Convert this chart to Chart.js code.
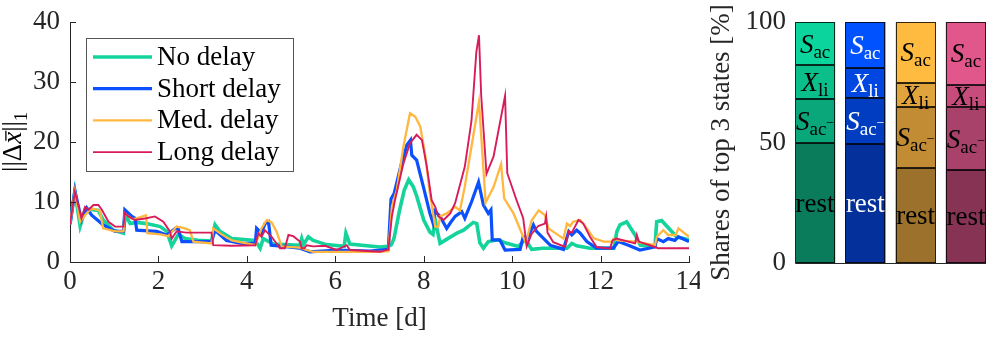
<!DOCTYPE html>
<html>
<head>
<meta charset="utf-8">
<script src="https://cdn.jsdelivr.net/npm/chart.js@4/dist/chart.umd.min.js"></script>
<style>
  body { margin: 0; background: #fff; }
  canvas { position: absolute; top: 0; }
</style>
</head>
<body>
<canvas id="lines" width="700" height="340" style="left:0"></canvas>
<canvas id="shares" width="296" height="340" style="left:700px"></canvas>
<script>
// time series, one time array and one value array per delay case
const noDelayT = [0, 0.11, 0.23, 0.34, 0.45, 0.64, 0.75, 0.98, 1.21, 1.25, 1.36, 1.51, 1.73, 2.04, 2.19, 2.3, 2.45, 2.6, 2.9, 3.2, 3.28, 3.39, 3.66, 4.19, 4.3, 4.37, 4.6, 5.2, 5.24, 5.28, 5.39, 5.5, 5.8, 6.2, 6.24, 6.33, 7.0, 7.2, 7.27, 7.33, 7.45, 7.56, 7.66, 7.76, 7.84, 8.0, 8.14, 8.21, 8.26, 8.3, 8.37, 8.48, 8.75, 8.9, 9.12, 9.2, 9.27, 9.35, 9.46, 9.69, 9.84, 10.14, 10.3, 10.44, 10.7, 11.24, 11.35, 11.46, 11.76, 12.3, 12.37, 12.44, 12.59, 12.78, 12.9, 13.23, 13.27, 13.38, 13.72, 14];
const noDelayV = [6.3, 11.7, 6.0, 8.7, 8.8, 8.6, 7.0, 5.3, 4.8, 7.9, 6.4, 6.6, 6.4, 5.9, 5.1, 2.7, 4.6, 3.9, 3.6, 3.5, 6.2, 5.1, 3.9, 3.6, 2.3, 3.9, 3.0, 2.8, 3.9, 2.9, 4.2, 3.6, 2.9, 2.6, 4.8, 3.0, 2.5, 2.6, 2.9, 4.0, 8.5, 12.0, 13.7, 12.6, 11.0, 7.0, 5.0, 4.6, 7.0, 5.5, 3.1, 3.6, 4.8, 5.3, 6.6, 6.4, 3.2, 2.3, 3.4, 3.7, 3.2, 2.6, 3.8, 2.1, 2.3, 2.3, 3.1, 2.7, 2.3, 2.3, 5.1, 6.2, 6.7, 4.5, 2.8, 2.6, 6.7, 6.9, 4.2, 3.7];

const shortDelayT = [0, 0.11, 0.26, 0.38, 0.49, 0.75, 1.02, 1.21, 1.24, 1.4, 1.47, 1.51, 1.96, 2.19, 2.38, 2.45, 2.53, 3.2, 3.28, 3.54, 3.88, 4.19, 4.22, 4.33, 4.41, 4.49, 4.55, 4.83, 5.2, 5.43, 6.03, 6.78, 7.2, 7.26, 7.33, 7.5, 7.62, 7.7, 7.73, 7.84, 7.99, 8.14, 8.21, 8.25, 8.37, 8.52, 8.6, 8.71, 8.86, 8.93, 9.08, 9.24, 9.35, 9.46, 9.52, 9.55, 9.72, 9.84, 10.18, 10.25, 10.35, 10.48, 10.55, 10.86, 11.16, 11.28, 11.35, 11.46, 11.54, 11.69, 11.91, 12.29, 12.4, 12.63, 12.89, 13.23, 13.27, 13.42, 13.53, 13.68, 13.76, 14];
const shortDelayV = [6.3, 11.9, 7.0, 9.0, 7.8, 6.2, 5.1, 5.1, 8.7, 7.6, 7.3, 5.3, 5.1, 4.5, 5.6, 5.5, 3.4, 3.4, 5.3, 3.6, 3.1, 3.1, 5.6, 4.8, 6.4, 6.7, 2.8, 2.6, 2.3, 1.7, 2.0, 1.8, 2.1, 10.5, 11.4, 16.5, 19.5, 20.3, 17.8, 17.0, 12.6, 8.1, 6.5, 8.5, 7.6, 5.6, 6.5, 7.6, 8.4, 7.3, 10.0, 13.3, 9.5, 8.1, 8.7, 3.7, 3.7, 2.0, 2.1, 4.2, 4.0, 6.2, 5.1, 2.8, 2.1, 5.1, 4.5, 5.3, 4.8, 3.4, 2.3, 2.3, 3.4, 2.8, 2.0, 2.5, 3.9, 3.4, 3.9, 3.6, 4.2, 3.4];

const medDelayT = [0, 0.11, 0.23, 0.34, 0.45, 0.53, 0.68, 0.75, 1.02, 1.21, 1.24, 1.4, 1.47, 1.72, 1.75, 2.04, 2.22, 2.41, 2.56, 2.71, 2.79, 3.2, 3.24, 3.43, 3.66, 4.19, 4.33, 4.45, 4.56, 4.67, 4.75, 4.79, 5.2, 5.35, 5.5, 6.26, 7.01, 7.2, 7.28, 7.39, 7.54, 7.69, 7.81, 7.92, 8.03, 8.14, 8.26, 8.33, 8.37, 8.52, 8.71, 8.82, 8.93, 9.08, 9.25, 9.4, 9.58, 9.75, 9.82, 10.03, 10.25, 10.31, 10.44, 10.6, 10.74, 10.82, 11.16, 11.24, 11.31, 11.38, 11.54, 11.69, 11.84, 12.07, 12.26, 12.29, 12.4, 12.78, 13.23, 13.27, 13.42, 13.53, 13.7, 13.76, 14];
const medDelayV = [6.3, 11.8, 6.7, 7.8, 8.7, 8.9, 8.5, 5.6, 5.1, 5.1, 8.1, 7.2, 7.2, 7.8, 4.8, 4.6, 4.3, 5.9, 5.7, 5.3, 3.4, 3.1, 5.6, 4.6, 3.6, 2.8, 5.6, 7.0, 6.6, 5.1, 3.4, 2.6, 2.4, 2.0, 1.7, 1.7, 1.7, 1.8, 9.2, 12.0, 19.2, 24.8, 24.2, 22.6, 18.1, 11.4, 5.9, 5.9, 7.6, 8.1, 9.2, 8.6, 12.6, 19.2, 26.7, 9.9, 12.5, 16.3, 10.6, 8.1, 4.2, 3.2, 6.9, 8.6, 7.8, 5.6, 3.9, 6.4, 6.0, 6.7, 7.0, 5.6, 4.0, 3.4, 3.4, 3.9, 3.6, 3.4, 2.8, 4.2, 5.3, 4.5, 4.5, 5.6, 4.2];

const longDelayT = [0, 0.11, 0.26, 0.34, 0.42, 0.53, 0.64, 0.72, 0.87, 1.02, 1.21, 1.24, 1.32, 1.47, 1.73, 1.92, 2.11, 2.26, 2.3, 2.41, 2.64, 3.2, 3.24, 3.66, 4.19, 4.26, 4.33, 4.41, 4.56, 4.75, 4.86, 4.94, 5.05, 5.2, 5.24, 5.3, 5.35, 5.5, 5.77, 6.03, 6.26, 6.33, 7.01, 7.2, 7.28, 7.35, 7.54, 7.69, 7.84, 7.96, 8.07, 8.18, 8.26, 8.33, 8.45, 8.6, 8.71, 8.93, 9.08, 9.19, 9.25, 9.3, 9.42, 9.58, 9.84, 9.89, 10.1, 10.25, 10.33, 10.44, 10.59, 10.74, 10.77, 10.8, 10.93, 11.2, 11.28, 11.35, 11.5, 11.61, 11.76, 11.91, 12.21, 12.27, 12.36, 12.78, 12.82, 12.86, 13.23, 13.3, 14];
const longDelayV = [6.3, 11.7, 7.3, 9.2, 8.7, 9.5, 9.5, 8.7, 6.7, 5.9, 5.9, 8.2, 7.6, 7.0, 7.3, 7.6, 6.7, 5.1, 3.9, 5.1, 4.9, 4.9, 2.8, 2.7, 2.8, 4.8, 4.2, 5.3, 4.2, 2.3, 2.3, 4.5, 4.3, 3.4, 2.3, 2.3, 2.8, 2.6, 2.7, 2.0, 2.8, 2.0, 1.7, 2.1, 7.6, 10.3, 16.4, 19.8, 21.2, 20.3, 15.9, 10.3, 9.2, 7.6, 7.0, 8.1, 9.8, 15.9, 23.5, 35.0, 37.8, 27.8, 14.7, 17.6, 27.7, 14.8, 10.3, 7.3, 2.6, 4.7, 6.0, 6.4, 7.6, 4.9, 3.3, 2.5, 5.1, 4.9, 7.0, 6.4, 4.2, 2.5, 2.2, 3.6, 3.9, 3.1, 4.5, 3.4, 2.5, 2.3, 2.3];

const xTicks = [0, 2, 4, 6, 8, 10, 12, 14];
const yTicks = [0, 10, 20, 30, 40];

// shares of the top 3 states, stacked bottom -> top
const caseNames = ['No delay', 'Short delay', 'Med. delay', 'Long delay'];
const casePos = [1, 2, 3, 4];
const restShare = [50, 49.4, 39.5, 38.6];
const sacMinusShare = [18, 18.9, 25.4, 26];
const xliShare = [14, 12.7, 9.9, 9.4];
const sacShare = [18, 19, 25.2, 26];
const shareTicks = [0, 50, 100];

const FONT = '"Liberation Serif", "DejaVu Serif", serif';
const FS = 27;
const INK = '#262626';
Chart.defaults.font.family = FONT;
Chart.defaults.color = INK;

function pts(ts, vs) {
  return ts.map((t, i) => ({ x: t, y: vs[i] }));
}

// draw a run of text pieces [text, size, italic, dy, bar] centred on cx, cy
function drawParts(ctx, parts, cx, cy, color) {
  let w = 0;
  const widths = parts.map(p => {
    ctx.font = (p[2] ? 'italic ' : '') + p[1] + 'px ' + FONT;
    const m = ctx.measureText(p[0]).width;
    w += m;
    return m;
  });
  let x = cx - w / 2;
  ctx.fillStyle = color;
  ctx.strokeStyle = color;
  ctx.textAlign = 'left';
  ctx.textBaseline = 'alphabetic';
  parts.forEach((p, i) => {
    ctx.font = (p[2] ? 'italic ' : '') + p[1] + 'px ' + FONT;
    const base = cy + 9 + p[3];
    ctx.fillText(p[0], x, base);
    if (p[4]) {
      ctx.lineWidth = 1.3;
      ctx.beginPath();
      ctx.moveTo(x + 3, base - p[1] * 0.56);
      ctx.lineTo(x + widths[i] + 1, base - p[1] * 0.56);
      ctx.stroke();
    }
    x += widths[i];
  });
}

const lineDefs = [
  { label: 'No delay', t: noDelayT, v: noDelayV, color: '#14d49b', width: 3.6, order: 4 },
  { label: 'Short delay', t: shortDelayT, v: shortDelayV, color: '#0b50ff', width: 3.2, order: 3 },
  { label: 'Med. delay', t: medDelayT, v: medDelayV, color: '#ffb73f', width: 2.3, order: 2 },
  { label: 'Long delay', t: longDelayT, v: longDelayV, color: '#d81c5a', width: 1.9, order: 1 }
];

const boxLegend = {
  id: 'boxLegend',
  afterDraw(chart) {
    const { ctx, chartArea } = chart;
    const x0 = chartArea.left + 16, y0 = chartArea.top + 16;
    ctx.save();
    ctx.fillStyle = '#fff';
    ctx.fillRect(x0, y0, 207, 133);
    ctx.strokeStyle = '#555';
    ctx.lineWidth = 1;
    ctx.strokeRect(x0 + 0.5, y0 + 0.5, 207, 133);
    chart.data.datasets.forEach((ds, i) => {
      const y = y0 + 19 + i * 31.7;
      ctx.strokeStyle = ds.borderColor;
      ctx.lineWidth = ds.borderWidth;
      ctx.beginPath();
      ctx.moveTo(x0 + 7, y);
      ctx.lineTo(x0 + 66, y);
      ctx.stroke();
      ctx.fillStyle = '#000';
      ctx.font = FS + 'px ' + FONT;
      ctx.textBaseline = 'middle';
      ctx.textAlign = 'left';
      ctx.fillText(ds.label, x0 + 71, y + 1);
    });
    ctx.restore();
  }
};

const inTicks = {
  id: 'inTicks',
  afterDraw(chart) {
    const { ctx, chartArea, scales } = chart;
    ctx.save();
    ctx.strokeStyle = INK;
    ctx.lineWidth = 1;
    ctx.beginPath();
    scales.x.ticks.forEach(t => {
      const px = Math.round(scales.x.getPixelForValue(t.value)) + 0.5;
      ctx.moveTo(px, chartArea.bottom);
      ctx.lineTo(px, chartArea.bottom - 6);
    });
    scales.y.ticks.forEach(t => {
      const py = Math.round(scales.y.getPixelForValue(t.value)) + 0.5;
      ctx.moveTo(chartArea.left, py);
      ctx.lineTo(chartArea.left + 6, py);
    });
    ctx.stroke();
    // y axis label ||Δx̄||_1
    ctx.translate(12, (chartArea.top + chartArea.bottom) / 2);
    ctx.rotate(-Math.PI / 2);
    drawParts(ctx, [['||', FS, false, 0], ['Δ', FS, false, 0], ['x', FS, true, 0, true], ['||', FS, false, 0], ['1', 18, false, 6]], 0, 0, '#000');
    ctx.restore();
  }
};

new Chart(document.getElementById('lines'), {
  type: 'line',
  data: {
    datasets: lineDefs.map(d => ({
      label: d.label,
      data: pts(d.t, d.v),
      borderColor: d.color,
      borderWidth: d.width,
      pointRadius: 0,
      tension: 0,
      order: d.order
    }))
  },
  options: {
    responsive: false,
    animation: false,
    devicePixelRatio: 1,
    layout: { padding: { top: 22, right: 11, left: 0, bottom: 0 } },
    plugins: { legend: { display: false }, tooltip: { enabled: false } },
    scales: {
      x: {
        type: 'linear', min: 0, max: 14,
        afterBuildTicks: s => { s.ticks = xTicks.map(v => ({ value: v })); },
        ticks: { font: { size: FS }, color: INK, padding: 4, maxRotation: 0 },
        grid: { display: false, drawTicks: false },
        border: { color: INK, width: 1 },
        title: { display: true, text: 'Time [d]', font: { size: FS }, color: INK, padding: { top: 0, bottom: 5 } },
        afterFit: s => { s.height = 78; s.paddingLeft = 0; s.paddingRight = 0; }
      },
      y: {
        min: 0, max: 40,
        afterBuildTicks: s => { s.ticks = yTicks.map(v => ({ value: v })); },
        ticks: { font: { size: FS }, color: INK, padding: 10 },
        grid: { display: false, drawTicks: false },
        border: { color: INK, width: 1 },
        afterFit: s => { s.width = 70; s.paddingTop = 0; s.paddingBottom = 0; }
      }
    }
  },
  plugins: [inTicks, boxLegend]
});

// ---- stacked shares ----
const segDefs = [
  { name: 'rest', vals: restShare, colors: ['#0a7c5c', '#03309a', '#9b712b', '#863354'],
    parts: [['rest', FS, false, 0]] },
  { name: 'Sac-', vals: sacMinusShare, colors: ['#0aa77b', '#003dc0', '#c28c35', '#a9426b'],
    parts: [['S', FS, true, 0], ['ac', 19, false, 5], ['\u2212', 14, false, -3]] },
  { name: 'Xli', vals: xliShare, colors: ['#0bbf8b', '#0047e2', '#e0a43c', '#c54c7b'],
    parts: [['X', FS, true, 0], ['li', 19, false, 5]] },
  { name: 'Sac', vals: sacShare, colors: ['#0bd59c', '#0052ff', '#ffba40', '#e1578b'],
    parts: [['S', FS, true, 0], ['ac', 19, false, 5]] }
];
const labelInk = ['#000', '#fff', '#000', '#000'];

const segLabels = {
  id: 'segLabels',
  afterDatasetsDraw(chart) {
    const { ctx, chartArea } = chart;
    ctx.save();
    // dark outline round every segment
    ctx.strokeStyle = 'rgba(0,0,0,0.8)';
    ctx.lineWidth = 1;
    segDefs.forEach((seg, d) => {
      chart.getDatasetMeta(d).data.forEach(bar => {
        const l = Math.round(bar.x - bar.width / 2) + 0.5;
        const r = Math.round(bar.x + bar.width / 2) - 0.5;
        const t = Math.round(bar.y) + 0.5;
        const b = Math.round(bar.base) - 0.5;
        ctx.strokeRect(l, t, r - l, b - t);
      });
    });
    segDefs.forEach((seg, d) => {
      chart.getDatasetMeta(d).data.forEach((bar, i) => {
        drawParts(ctx, seg.parts, bar.x, (bar.y + bar.base) / 2, labelInk[i]);
      });
    });
    // axis lines (left and bottom)
    ctx.strokeStyle = INK;
    ctx.beginPath();
    ctx.moveTo(Math.round(chartArea.left) + 0.5, chartArea.top);
    ctx.lineTo(Math.round(chartArea.left) + 0.5, Math.round(chartArea.bottom) + 0.5);
    ctx.lineTo(chartArea.right, Math.round(chartArea.bottom) + 0.5);
    ctx.stroke();
    ctx.restore();
  }
};

new Chart(document.getElementById('shares'), {
  type: 'bar',
  data: {
    datasets: segDefs.map(seg => ({
      label: seg.name,
      data: casePos.map((x, i) => ({ x: x, y: seg.vals[i] })),
      backgroundColor: seg.colors,
      borderWidth: 0,
      barPercentage: 0.8,
      categoryPercentage: 1
    }))
  },
  options: {
    responsive: false,
    animation: false,
    devicePixelRatio: 1,
    layout: { padding: { top: 22, right: 10, left: 0, bottom: 0 } },
    plugins: { legend: { display: false }, tooltip: { enabled: false } },
    scales: {
      x: {
        type: 'linear', min: 0.6, max: 4.4, stacked: true, offset: false,
        ticks: { display: false },
        grid: { display: false, drawTicks: false, offset: false },
        border: { display: false },
        afterFit: s => { s.height = 77; s.paddingLeft = 0; s.paddingRight = 0; }
      },
      y: {
        min: 0, max: 100, stacked: true,
        afterBuildTicks: s => { s.ticks = shareTicks.map(v => ({ value: v })); },
        ticks: { font: { size: FS }, color: INK, padding: 9 },
        grid: { display: false, drawTicks: false },
        border: { display: false },
        title: { display: true, text: 'Shares of top 3 states [%]', font: { size: FS }, color: INK, padding: { top: 6, bottom: 0 } },
        afterFit: s => { s.width = 95; s.paddingTop = 0; s.paddingBottom = 0; }
      }
    }
  },
  plugins: [segLabels]
});
</script>
</body>
</html>
